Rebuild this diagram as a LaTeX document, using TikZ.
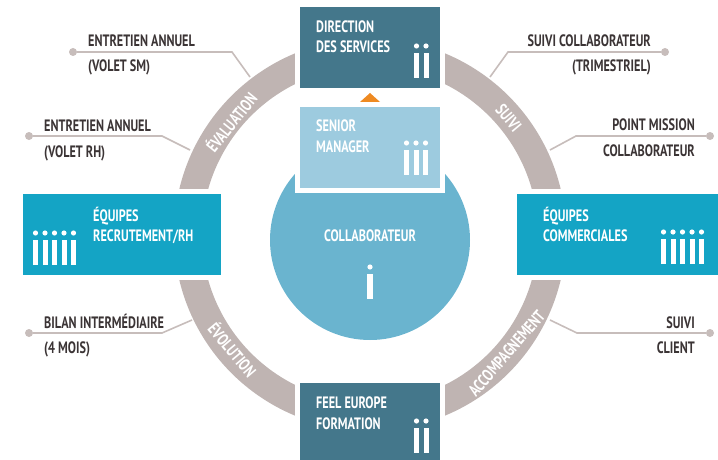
\documentclass[tikz,border=0pt]{standalone}
\usepackage{fontspec}
\setmainfont[FakeStretch=0.74]{PT Sans}
\usetikzlibrary{calc, positioning}
\definecolor{ringgray}{HTML}{BFB4B2}
\definecolor{linegray}{HTML}{C7BDBB}
\definecolor{darkteal}{HTML}{44778B}
\definecolor{brightblue}{HTML}{14A4C5}
\definecolor{paleblue}{HTML}{9DCBDF}
\definecolor{midblue}{HTML}{6AB4CF}
\definecolor{markorange}{HTML}{EE8A22}
\definecolor{inkdark}{HTML}{3B3435}
\newcommand{\pips}[4]{%
  \foreach \k in {1,...,#3}{
    \fill[white] ({#1+9.5*(\k-1)},#2) rectangle ++(#4,25);
    \fill[white] ({#1+9.5*(\k-1)+#4/2},{#2-7}) circle[radius=2.6pt];
  }}

\begin{document}
\begin{tikzpicture}[x=1pt,y=-1pt,
  box/.style={minimum width=140pt, minimum height=81pt, inner sep=0pt,
    preaction={draw=white, line width=10pt}},
  boxtext/.style={white, anchor=base west, align=left, inner sep=0pt,
    font=\fontsize{16.5}{20.5}\selectfont\bfseries},
  note/.style={inkdark, anchor=base west, align=left, inner sep=0pt,
    font=\fontsize{16.5}{25}\selectfont\bfseries},
  ringtext/.style={white, inner sep=0pt, font=\fontsize{17}{17}\selectfont\bfseries},
  leader/.style={linegray, line width=1.6pt},
  pin/.style={circle, fill=linegray, minimum size=8pt, inner sep=0pt}]
  \useasboundingbox (0,0) rectangle (718,460);
  \coordinate (ctr) at (370,234.5);

  \node[pin] (pin1) at (73,52) {};
  \node[pin] (pin2) at (29,136) {};
  \node[pin] (pin3) at (665,52) {};
  \node[pin] (pin4) at (710,136) {};
  \node[pin] (pin5) at (29,333) {};
  \node[pin] (pin6) at (710,333) {};
  \coordinate (end1) at (250,77);
  \coordinate (end2) at (190,150);
  \coordinate (end3) at (490,77);
  \coordinate (end4) at (550,150);
  \coordinate (end5) at (192,320);
  \coordinate (end6) at (550,320);
  \draw[leader] (pin1) -- ++(159,0) -- (end1);
  \draw[leader] (pin2) -- ++(133,0) -- (end2);
  \draw[leader] (pin3) -- ++(-157,0) -- (end3);
  \draw[leader] (pin4) -- ++(-134,0) -- (end4);
  \draw[leader] (pin5) -- ++(133,0) -- (end5);
  \draw[leader] (pin6) -- ++(-133,0) -- (end6);

  \draw[ringgray, line width=28pt] (ctr) circle[radius=182pt];
  \node[circle, fill=midblue, minimum size=200pt] (collab) at (370,240) {};
  \node[box, fill=paleblue] (senior) at (370,147) {};
  \node[box, fill=darkteal] (direction) at (370,47.5) {};
  \node[box, fill=darkteal, minimum height=77pt] (feel) at (370,421.5) {};
  \node[box, fill=brightblue, minimum width=198pt] (recrut) at (122,234.5) {};
  \node[box, fill=brightblue, minimum width=201pt] (commerc) at (617.5,234.5) {};
  \fill[markorange] (360,102) -- (370,93) -- (380,102) -- cycle;

  \node[boxtext] (directiontxt) at (316,52.5) {DIRECTION\\DES SERVICES};
  \node[boxtext] (seniortxt) at (316,152) {SENIOR\\MANAGER};
  \node[boxtext] (feeltxt) at (316,429) {FEEL EUROPE\\FORMATION};
  \node[boxtext] (recruttxt) at (93,241.5) {ÉQUIPES\\RECRUTEMENT/RH};
  \node[boxtext] (commerctxt) at (543,241.5) {ÉQUIPES\\COMMERCIALES};
  \node[boxtext, anchor=base] (collabtxt) at (370,241.5) {COLLABORATEUR};

  \pips{414}{53}{2}{5}
  \pips{404}{150}{3}{5}
  \pips{414}{428}{2}{5}
  \pips{33}{240}{5}{5}
  \pips{661}{239}{5}{5}
  \pips{367}{274}{1}{6}

  \node[note] (note1) at (88,72) {ENTRETIEN ANNUEL\\(VOLET SM)};
  \node[note] (note2) at (44,157) {ENTRETIEN ANNUEL\\(VOLET RH)};
  \node[note, anchor=base east, align=right] (note3) at (651,72) {SUIVI COLLABORATEUR\\(TRIMESTRIEL)};
  \node[note, anchor=base east, align=right] (note4) at (695,156) {POINT MISSION\\COLLABORATEUR};
  \node[note] (note5) at (44,353) {BILAN INTERMÉDIAIRE\\(4 MOIS)};
  \node[note, anchor=base east, align=right] (note6) at (695,353) {SUIVI\\CLIENT};

  \node[ringtext, rotate=51] (evaluation) at ($(ctr)+(141:179pt)$) {ÉVALUATION};
  \node[ringtext, rotate=-50] (suivi) at ($(ctr)+(40:181pt)$) {SUIVI};
  \node[ringtext, rotate=-50] (evolution) at ($(ctr)+(220:179pt)$) {ÉVOLUTION};
  \node[ringtext, rotate=49] (accomp) at ($(ctr)+(-41:181pt)$) {ACCOMPAGNEMENT};
\end{tikzpicture}
\end{document}
